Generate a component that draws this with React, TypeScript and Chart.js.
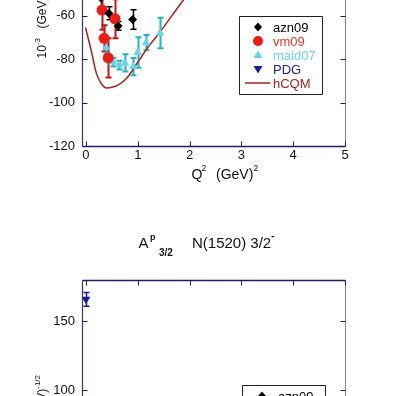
import React, { useEffect, useRef } from "react";
import { Chart, registerables } from "chart.js";

Chart.register(...registerables);

const FONT = '"Liberation Sans", Arial, Helvetica, sans-serif';

// ---------- upper panel: A^p_1/2  N(1520) 3/2^-  (10^-3 GeV^-1/2) ----------
const q2Ticks = [0, 1, 2, 3, 4, 5];
const upperYTicks = [-120, -100, -80, -60, -40, -20, 0];

const azn09Q2 = [0.29, 0.44, 0.62, 0.9];
const azn09A12 = [-52, -59, -64.8, -61.8];
const azn09A12Err = [5, 3, 2, 4.5];

const vm09Q2 = [0.31, 0.35, 0.43, 0.56];
const vm09A12 = [-57.5, -70.5, -79.5, -61.5];
const vm09A12Err = [9, 6, 9, 9];

const maid07Q2 = [0.39, 0.52, 0.64, 0.75, 0.91, 1.0, 1.16, 1.43];
const maid07A12 = [-74.8, -81.4, -82.8, -81.8, -83.5, -77, -72.5, -68];
const maid07A12Err = [3, 2, 2, 4, 4, 7, 3.5, 7];

const pdgQ2 = [0];
const pdgA12 = [-24];
const pdgA12Err = [9];

const hcqmQ2 = [-0.01, 0.1, 0.2, 0.3, 0.4, 0.5, 0.62, 0.79, 1.0, 1.2, 1.4, 1.6, 1.8, 2.0, 2.2];
const hcqmA12 = [-65.5, -76, -86.5, -91.5, -93.3, -93, -92, -88.7, -81.5, -74.5, -68.5, -62, -55.5, -49, -43];

// ---------- lower panel: A^p_3/2 ----------
const lowerYTicks = [0, 50, 100, 150];
const pdgA32 = [166];
const pdgA32Err = [5];

const legendLabels = ["azn09", "vm09", "maid07", "PDG", "hCQM"];

const STY: Record<string, { shape: string; fill: string; text: string }> = {
  azn09: { shape: "diamond", fill: "#000000", text: "#000000" },
  vm09: { shape: "circle", fill: "#ee1c12", text: "#e03a28" },
  maid07: { shape: "triangle", fill: "#6cd3ee", text: "#74d6ee" },
  PDG: { shape: "down", fill: "#1a1a9c", text: "#23238c" },
  hCQM: { shape: "line", fill: "#a82222", text: "#a02420" },
};

type Seg = { t: string; size: number; dy?: number; x?: number; color?: string; bold?: boolean };

function segs(ctx: CanvasRenderingContext2D, list: Seg[], x0: number, y0: number, draw: boolean) {
  let cx = x0;
  for (const s of list) {
    if (s.x !== undefined) cx = x0 + s.x;
    ctx.font = `${s.bold ? "bold " : ""}${s.size}px ${FONT}`;
    ctx.fillStyle = s.color || "#111";
    if (draw) ctx.fillText(s.t, cx, y0 + (s.dy || 0));
    cx += ctx.measureText(s.t).width;
  }
  return cx - x0;
}

function shape(ctx: CanvasRenderingContext2D, kind: string, x: number, y: number, color: string) {
  ctx.fillStyle = color;
  ctx.strokeStyle = color;
  ctx.beginPath();
  if (kind === "diamond") {
    ctx.moveTo(x - 4, y); ctx.lineTo(x, y - 4.5); ctx.lineTo(x + 4, y); ctx.lineTo(x, y + 4.5); ctx.closePath(); ctx.fill();
  } else if (kind === "circle") {
    ctx.arc(x, y, 5, 0, Math.PI * 2); ctx.fill();
  } else if (kind === "triangle") {
    ctx.moveTo(x, y - 4.5); ctx.lineTo(x + 4.5, y + 3); ctx.lineTo(x - 4.5, y + 3); ctx.closePath(); ctx.fill();
  } else if (kind === "down") {
    ctx.moveTo(x, y + 4.5); ctx.lineTo(x + 4.5, y - 3); ctx.lineTo(x - 4.5, y - 3); ctx.closePath(); ctx.fill();
  } else {
    ctx.lineWidth = 1.5; ctx.moveTo(x - 13, y); ctx.lineTo(x + 12, y); ctx.stroke();
  }
}

const yTitleSegs: Seg[] = [
  { t: "10", size: 12 },
  { t: "-3", size: 8, dy: -6 },
  { t: "(GeV)", size: 12, x: 30 },
  { t: "-1/2", size: 8, dy: -6 },
];

interface DecorCfg {
  top: number;
  yTicks: number[];
  legend: { x: number; y: number; w: number; h: number; symX: number; textX: number };
  yTitle: { x: number; start?: number; end?: number };
  xTitle: boolean;
  panelTitle: boolean;
}

function makeDecor(cfg: DecorCfg) {
  return {
    id: "decor",
    beforeDatasetsDraw(chart: any) {
      const ctx: CanvasRenderingContext2D = chart.ctx;
      const a = chart.chartArea;
      const xs = chart.scales.x, ys = chart.scales.y;
      ctx.save();
      ctx.beginPath();
      ctx.rect(a.left, a.top, a.right - a.left, a.bottom - a.top);
      ctx.clip();
      chart.data.datasets.forEach((ds: any) => {
        if (!ds.errors) return;
        ds.data.forEach((p: any, j: number) => {
          const x = Math.round(xs.getPixelForValue(p.x)) + 0.5;
          const y1 = ys.getPixelForValue(p.y + ds.errors[j]);
          const y2 = ys.getPixelForValue(p.y - ds.errors[j]);
          ctx.strokeStyle = ds.errColor;
          ctx.lineWidth = ds.errWidth;
          ctx.beginPath();
          ctx.moveTo(x, y1); ctx.lineTo(x, y2);
          ctx.moveTo(x - 3, y1); ctx.lineTo(x + 3, y1);
          ctx.moveTo(x - 3, y2); ctx.lineTo(x + 3, y2);
          ctx.stroke();
        });
      });
      ctx.restore();
    },
    afterDraw(chart: any) {
      const ctx: CanvasRenderingContext2D = chart.ctx;
      const a = chart.chartArea;
      const xs = chart.scales.x, ys = chart.scales.y;
      const L = Math.round(a.left) + 0.5, R = Math.round(a.right) + 0.5;
      const T = Math.round(a.top) + 0.5, B = Math.round(a.bottom) + 0.5;
      ctx.save();
      const seg = (x1: number, y1: number, x2: number, y2: number, c: string, w = 1) => {
        ctx.strokeStyle = c; ctx.lineWidth = w;
        ctx.beginPath(); ctx.moveTo(x1, y1); ctx.lineTo(x2, y2); ctx.stroke();
      };
      seg(L, T, L, B, "#34346e", 1.2);
      seg(R, T, R, B, "#7c7cb0");
      seg(L, B, R, B, "#1e1e5e", 1.5);
      seg(L, T, R, T, "#1e1e5e", 1.5);
      for (const v of cfg.yTicks) {
        const py = Math.round(ys.getPixelForValue(v)) + 0.5;
        seg(L, py, L + 5, py, "#1e1e5e");
        seg(R - 5, py, R, py, "#1e1e5e");
      }
      for (const v of q2Ticks) {
        const px = Math.round(xs.getPixelForValue(v)) + 0.5;
        seg(px, B, px, B - 5, "#1e1e5e");
        seg(px, T, px, T + 5, "#1e1e5e");
      }
      // page coordinates from here on
      ctx.translate(0, -cfg.top);
      // legend
      const lg = cfg.legend;
      ctx.fillStyle = "#fff";
      ctx.fillRect(lg.x, lg.y, lg.w, lg.h);
      seg(lg.x + 0.5, lg.y + 0.5, lg.x + lg.w + 0.5, lg.y + 0.5, "#222");
      seg(lg.x + lg.w + 0.5, lg.y + 0.5, lg.x + lg.w + 0.5, lg.y + lg.h + 0.5, "#222");
      seg(lg.x + 0.5, lg.y + lg.h + 0.5, lg.x + lg.w + 0.5, lg.y + lg.h + 0.5, "#222");
      seg(lg.x + 0.5, lg.y + 0.5, lg.x + 0.5, lg.y + lg.h + 0.5, "#222");
      legendLabels.forEach((lab, i) => {
        const cy = lg.y + 11 + i * 14;
        const st = STY[lab];
        shape(ctx, st.shape, lg.symX, cy, st.fill);
        ctx.font = `13px ${FONT}`;
        ctx.fillStyle = st.text;
        ctx.textAlign = "left";
        ctx.textBaseline = "alphabetic";
        ctx.fillText(lab, lg.textX, cy + 4.5);
      });
      ctx.textAlign = "left";
      ctx.textBaseline = "alphabetic";
      // x-axis title
      if (cfg.xTitle) {
        segs(ctx, [
          { t: "Q", size: 14 },
          { t: "2", size: 8.5, dy: -8, x: 10 },
          { t: "(GeV)", size: 14, x: 24.5 },
          { t: "2", size: 8.5, dy: -8, x: 62 },
        ], 191.5, 179, true);
      }
      // panel title
      if (cfg.panelTitle) {
        segs(ctx, [
          { t: "A", size: 15 },
          { t: "p", size: 9, bold: true, dy: -8, x: 11.5 },
          { t: "3/2", size: 10, bold: true, dy: 8.5, x: 20.5 },
          { t: "N(1520) 3/2", size: 15, x: 53.5 },
          { t: "-", size: 10, bold: true, dy: -9 },
        ], 138.5, 247.5, true);
      }
      // y-axis title (rotated)
      const yt = cfg.yTitle;
      const w = segs(ctx, yTitleSegs, 0, 0, false);
      const start = yt.start !== undefined ? yt.start : (yt.end as number) + w;
      ctx.translate(yt.x, start);
      ctx.rotate(-Math.PI / 2);
      segs(ctx, yTitleSegs, 0, 0, true);
      ctx.restore();
    },
  };
}

function pts(xs: number[], ys: number[]) {
  return xs.map((x, i) => ({ x, y: ys[i] }));
}

function scaleOpts(min: number, max: number, ticks: number[], fit: (s: any) => void, showLabels: boolean, pad: number) {
  return {
    type: "linear" as const,
    min,
    max,
    afterBuildTicks: (s: any) => { s.ticks = ticks.map((v) => ({ value: v })); },
    afterFit: fit,
    grid: { display: false, drawTicks: false },
    border: { display: false },
    ticks: {
      display: showLabels,
      font: { family: FONT, size: 13 },
      color: "#111",
      padding: pad,
      maxRotation: 0,
      autoSkip: false,
    },
  };
}

const markerDs = (label: string, xs: number[], ys: number[], errs: number[], r: number, style: string, rot: number, errColor: string, errWidth: number) => ({
  type: "scatter" as const,
  label,
  data: pts(xs, ys),
  pointStyle: style,
  rotation: rot,
  pointRadius: r,
  pointBackgroundColor: STY[label].fill,
  pointBorderColor: STY[label].fill,
  pointBorderWidth: 0,
  showLine: false,
  errors: errs,
  errColor,
  errWidth,
});

function upperConfig(): any {
  return {
    type: "scatter",
    data: {
      datasets: [
        markerDs("azn09", azn09Q2, azn09A12, azn09A12Err, 4.5, "rectRot", 0, "#000000", 1.5),
        markerDs("vm09", vm09Q2, vm09A12, vm09A12Err, 5.5, "circle", 0, "#c81414", 2),
        markerDs("maid07", maid07Q2, maid07A12, maid07A12Err, 5, "triangle", 0, "#22b4c4", 2),
        markerDs("PDG", pdgQ2, pdgA12, pdgA12Err, 5, "triangle", 180, "#1a1a9c", 1.5),
        {
          type: "scatter",
          label: "hCQM",
          data: pts(hcqmQ2, hcqmA12),
          showLine: true,
          borderColor: STY.hCQM.fill,
          borderWidth: 1.5,
          pointRadius: 0,
          cubicInterpolationMode: "monotone",
          fill: false,
        },
      ],
    },
    options: {
      responsive: false,
      animation: false,
      events: [],
      layout: { padding: { top: 25, right: 51, left: 0, bottom: 0 } },
      plugins: { legend: { display: false }, title: { display: false }, tooltip: { enabled: false } },
      scales: {
        x: scaleOpts(-0.077, 5, q2Ticks, (s: any) => { s.height = 60; }, true, 2),
        y: scaleOpts(-120, 0, upperYTicks, (s: any) => { s.width = 82; }, true, 7),
      },
    },
    plugins: [
      makeDecor({
        top: -140,
        yTicks: upperYTicks,
        legend: { x: 239, y: 16, w: 83, h: 78, symX: 258, textX: 273 },
        yTitle: { x: 45.5, start: 58.5 },
        xTitle: true,
        panelTitle: false,
      }),
    ],
  };
}

function lowerConfig(): any {
  return {
    type: "scatter",
    data: {
      datasets: [markerDs("PDG", pdgQ2, pdgA32, pdgA32Err, 5, "triangle", 180, "#1a1a9c", 1.5)],
    },
    options: {
      responsive: false,
      animation: false,
      events: [],
      layout: { padding: { top: 80, right: 51, left: 0, bottom: 0 } },
      plugins: { legend: { display: false }, title: { display: false }, tooltip: { enabled: false } },
      scales: {
        x: scaleOpts(-0.077, 5, q2Ticks, (s: any) => { s.height = 40; }, true, 2),
        y: scaleOpts(0, 180, lowerYTicks, (s: any) => { s.width = 82; }, true, 7),
      },
    },
    plugins: [
      makeDecor({
        top: 200,
        yTicks: lowerYTicks,
        legend: { x: 242, y: 385, w: 83, h: 78, symX: 262, textX: 278 },
        yTitle: { x: 45.5, end: 375 },
        xTitle: false,
        panelTitle: true,
      }),
    ],
  };
}

export default function App() {
  const upRef = useRef<HTMLCanvasElement>(null);
  const loRef = useRef<HTMLCanvasElement>(null);
  useEffect(() => {
    const c1 = new Chart(upRef.current as HTMLCanvasElement, upperConfig());
    const c2 = new Chart(loRef.current as HTMLCanvasElement, lowerConfig());
    return () => {
      c1.destroy();
      c2.destroy();
    };
  }, []);
  return (
    <div style={{ position: "fixed", left: 0, top: 0, width: 396, height: 396, overflow: "hidden", background: "#fff" }}>
      <canvas ref={upRef} width={396} height={346} style={{ position: "absolute", left: 0, top: -140 }} />
      <canvas ref={loRef} width={396} height={368} style={{ position: "absolute", left: 0, top: 200 }} />
    </div>
  );
}
